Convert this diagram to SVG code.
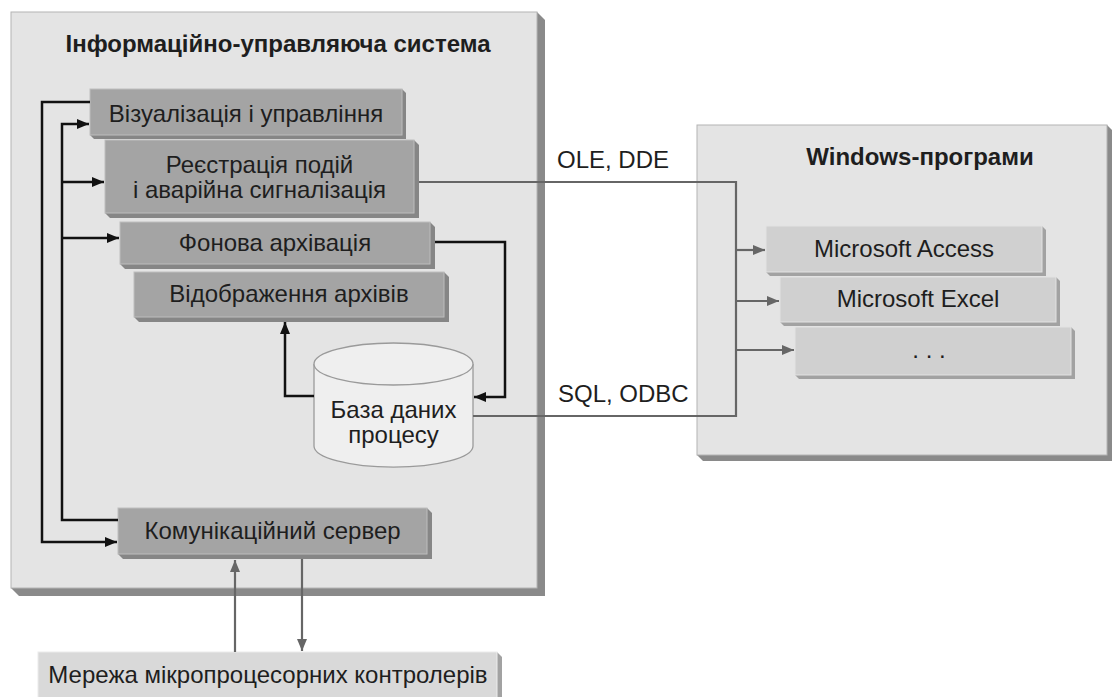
<svg xmlns="http://www.w3.org/2000/svg" width="1112" height="697" viewBox="0 0 1112 697">
<defs>
<style>
text{font-family:"Liberation Sans",Arial,sans-serif;fill:#1e1e1e;text-anchor:middle}
.t{font-size:24px}
.h{font-size:24px;font-weight:bold}
.l{font-size:24px;text-anchor:start}
.big{fill:#e4e4e4;stroke:#b4b4b4;stroke-width:1}
.bigsh{fill:#8a8a8a}
.dk{fill:#a4a4a4;stroke:#bdbdbd;stroke-width:1}
.dksh{fill:#868686}
.lt{fill:#d0d0d0;stroke:#e2e2e2;stroke-width:1}
.ltsh{fill:#a2a2a2}
.net{fill:#d9d9d9;stroke:#ececec;stroke-width:1}
.blk{fill:none;stroke:#111;stroke-width:2.5}
.gry{fill:none;stroke:#666;stroke-width:2.2}
</style>
<marker id="ab" viewBox="0 0 12 10" refX="12" refY="5" markerWidth="13" markerHeight="10" markerUnits="userSpaceOnUse" orient="auto"><path d="M0,0 L12,5 L0,10 Z" fill="#111"/></marker>
<marker id="ag" viewBox="0 0 12 10" refX="12" refY="5" markerWidth="13" markerHeight="10" markerUnits="userSpaceOnUse" orient="auto"><path d="M0,0 L12,5 L0,10 Z" fill="#666"/></marker>
</defs>
<rect width="1112" height="697" fill="#fff"/>

<g id="ius">
<polygon class="bigsh" points="537,12 545,20 545,596 19,596 11,588"/>
<rect class="big" x="11" y="12" width="526" height="576"/>
<text class="h" x="278" y="52">Інформаційно-управляюча система</text>
</g>

<g id="win">
<polygon class="bigsh" points="1107,125 1113,131 1113,461 703,461 697,455"/>
<rect class="big" x="697" y="125" width="410" height="330"/>
<text class="h" x="920" y="165">Windows-програми</text>
</g>

<g id="viz">
<polygon class="dksh" points="402,89 406,93 406,139 94,139 90,135"/>
<rect class="dk" x="90" y="89" width="312" height="46"/>
<text class="t" x="246" y="122">Візуалізація і управління</text>
</g>

<g id="reg">
<polygon class="dksh" points="414,140 419,145 419,218 110,218 105,213"/>
<rect class="dk" x="105" y="140" width="309" height="73"/>
<text class="t" x="259.5" y="173">Реєстрація подій</text>
<text class="t" x="259.5" y="198">і аварійна сигналізація</text>
</g>

<g id="fon">
<polygon class="dksh" points="430,222 435,227 435,269 125,269 120,264"/>
<rect class="dk" x="120" y="222" width="310" height="42"/>
<text class="t" x="275" y="251">Фонова архівація</text>
</g>

<g id="vid">
<polygon class="dksh" points="444,272 449,277 449,322 139,322 134,317"/>
<rect class="dk" x="134" y="272" width="310" height="45"/>
<text class="t" x="289" y="302">Відображення архівів</text>
</g>

<g id="db">
<path d="M314,364 V446 A79,21 0 0 0 473,446 V364" fill="#efefef" stroke="#9a9a9a" stroke-width="1.3"/>
<ellipse cx="393.5" cy="364" rx="79.5" ry="21" fill="#efefef" stroke="#9a9a9a" stroke-width="1.3"/>
<text class="t" x="393.5" y="418">База даних</text>
<text class="t" x="393.5" y="443">процесу</text>
</g>

<g id="comm">
<polygon class="dksh" points="427,508 432,513 432,559 123,559 118,554"/>
<rect class="dk" x="118" y="508" width="309" height="46"/>
<text class="t" x="272.5" y="539">Комунікаційний сервер</text>
</g>

<g id="net">
<polygon class="ltsh" points="497,652 502,657 502,700 43,700 38,697"/>
<rect class="net" x="38" y="652" width="459" height="50"/>
<text class="t" x="268" y="683">Мережа мікропроцесорних контролерів</text>
</g>

<g id="access">
<polygon class="ltsh" points="1042,226 1046,230 1046,276 770,276 766,272"/>
<rect class="lt" x="766" y="226" width="276" height="46"/>
<text class="t" x="904" y="257">Microsoft Access</text>
</g>

<g id="excel">
<polygon class="ltsh" points="1056,277 1060,281 1060,326 784,326 780,322"/>
<rect class="lt" x="780" y="277" width="276" height="45"/>
<text class="t" x="918" y="307">Microsoft Excel</text>
</g>

<g id="other">
<polygon class="ltsh" points="1071,327 1075,331 1075,379 799,379 795,375"/>
<rect class="lt" x="795" y="327" width="276" height="48"/>
<text class="t" x="929" y="358">. . .</text>
</g>

<g id="connectors">
<path class="blk" d="M90,102 H42 V542 H117" marker-end="url(#ab)"/>
<path class="blk" d="M118,520 H62 V124 H89" marker-end="url(#ab)"/>
<path class="blk" d="M62,182 H104" marker-end="url(#ab)"/>
<path class="blk" d="M62,238 H119" marker-end="url(#ab)"/>
<path class="blk" d="M435,242 H505 V397 H474" marker-end="url(#ab)"/>
<path class="blk" d="M314,396 H285 V322" marker-end="url(#ab)"/>
<path class="gry" d="M419,182 H736 V416 H473"/>
<path class="gry" d="M736,250 H765" marker-end="url(#ag)"/>
<path class="gry" d="M736,301 H779" marker-end="url(#ag)"/>
<path class="gry" d="M736,350 H794" marker-end="url(#ag)"/>
<path class="gry" d="M235,652 V560" marker-end="url(#ag)"/>
<path class="gry" d="M302,559 V651" marker-end="url(#ag)"/>
<text class="l" x="557" y="168">OLE, DDE</text>
<text class="l" x="558" y="402">SQL, ODBC</text>
</g>
</svg>
